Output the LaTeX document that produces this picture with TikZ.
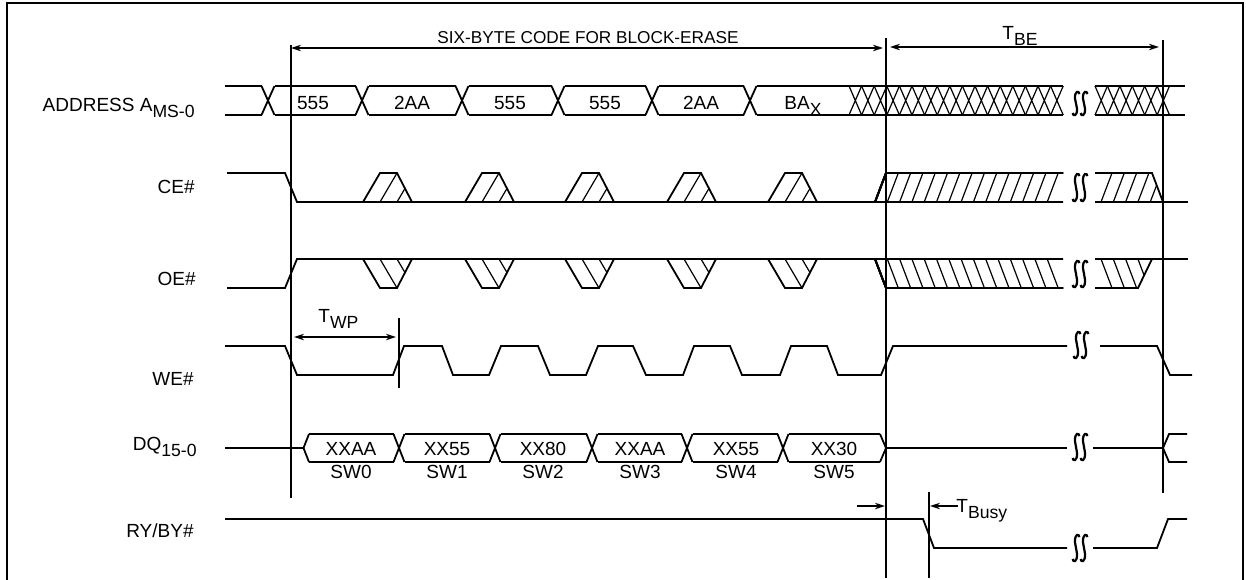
\documentclass[tikz,border=0pt]{standalone}
\usepackage{fontspec}
\setmainfont{Liberation Sans}
\usetikzlibrary{arrows.meta,positioning}

\tikzset{
  sig/.style={line width=0.9pt},
  hatch/.style={line width=0.6pt},
  guide/.style={line width=0.6pt},
  tip/.style={line width=0.8pt,-{Stealth[length=5pt,width=3.2pt]}},
  dimarrow/.style={line width=0.8pt,{Stealth[length=5pt,width=3.2pt]}-{Stealth[length=5pt,width=3.2pt]}},
  lbl/.style={font=\fontsize{9.5}{11}\selectfont,inner sep=0pt,anchor=base},
  rowlbl/.style={lbl,anchor=base east},
}
% subscript as printed in the data sheet
\newcommand{\sbs}[1]{\raisebox{-3.2pt}{\fontsize{8.8}{10}\selectfont #1}}
% break mark: x, top, bottom
\newcommand{\gapmark}[3]{%
  \foreach \gx in {#1-4,#1+4}{
    \draw[line width=1.1pt] (\gx+3.5,#2+3) .. controls (\gx+3,#2-0.5) and (\gx-1.5,#2-0.5) .. (\gx-1,{#2+0.3*(#3-#2)})
      -- (\gx+1,{#3-0.3*(#3-#2)}) .. controls (\gx+1.5,#3+0.5) and (\gx-3,#3+0.5) .. (\gx-3.5,#3-3);
  }}
% uncertain edge on CE# (rising) and OE# (falling)
\newcommand{\cebump}[1]{%
  \draw[sig] (#1,202) -- (#1+17,173) -- (#1+34,173) -- (#1+49,202);
  \draw[hatch] (#1+17,202) -- (#1+34,173) (#1+34,202) -- (#1+42,188.4);}
\newcommand{\oebump}[1]{%
  \draw[sig] (#1,259) -- (#1+17,288) -- (#1+34,288) -- (#1+49,259);
  \draw[hatch] (#1+17,259) -- (#1+34,288) (#1+34,259) -- (#1+42,272.6);}

\begin{document}
\begin{tikzpicture}[x=0.5pt,y=-0.5pt]
  \useasboundingbox (0,0) rectangle (1246,579);
  \draw[line width=1pt] (7,580) -- (7,2.5) -- (1243,2.5) -- (1243,580);

  % timing guides
  \draw[guide] (291,45) -- (291,498);
  \draw[guide] (886,38) -- (886,578);
  \draw[guide] (1163,40) -- (1163,493);
  \draw[guide] (399,318) -- (399,388);
  \draw[guide] (929,492) -- (929,578);

  % top dimensions
  \coordinate (sbL) at (291,48);  \coordinate (sbR) at (883,48);
  \coordinate (beL) at (890,47);  \coordinate (beR) at (1159,47);
  \draw[dimarrow] (sbL) -- (sbR);
  \draw[dimarrow] (beL) -- (beR);
  \node[lbl,font=\fontsize{8.6}{10}\selectfont] (code) at (588,43) {SIX-BYTE CODE FOR BLOCK-ERASE};
  \node[lbl,anchor=base west] (tbe) at (1002,39) {T\sbs{BE}};

  % row names
  \node[rowlbl] (addr) at (195,111) {ADDRESS A\sbs{MS-0}};
  \node[rowlbl] (ce) at (195,193) {CE\#};
  \node[rowlbl] (oe) at (196,285) {OE\#};
  \node[rowlbl] (we) at (194,385) {WE\#};
  \node[rowlbl] (dq) at (197,450) {DQ\sbs{15-0}};
  \node[rowlbl] (ry) at (194,537) {RY/BY\#};

  % ADDRESS
  \draw[sig] (225,86) -- (261.5,86) (225,115) -- (261.5,115);
  \foreach \c in {268,362,462,558,652,750}
    \draw[sig] (\c-6.5,86) -- (\c+6.5,115) (\c-6.5,115) -- (\c+6.5,86);
  \foreach \a/\b in {268/362,362/462,462/558,558/652,652/750,750/855}
    \draw[sig] (\a+6.5,86) -- (\b-6.5,86) (\a+6.5,115) -- (\b-6.5,115);
  \draw[sig] (848.5,86) -- (1063,86) (848.5,115) -- (1063,115);
  \foreach \k in {0,...,16}
    \draw[hatch] (849+12.6*\k,86) -- (861.6+12.6*\k,115) (849+12.6*\k,115) -- (861.6+12.6*\k,86);
  \draw[sig] (1095,86) -- (1185,86) (1095,115) -- (1185,115);
  \foreach \k in {0,...,5}
    \draw[hatch] (1095+12.42*\k,86) -- (1107.42+12.42*\k,115) (1095+12.42*\k,115) -- (1107.42+12.42*\k,86);
  \gapmark{1080}{91}{116}
  \node[lbl] (a1) at (313,109) {555};
  \node[lbl] (a2) at (412,109) {2AA};
  \node[lbl] (a3) at (510,109) {555};
  \node[lbl] (a4) at (605,109) {555};
  \node[lbl] (a5) at (701,109) {2AA};
  \node[lbl] (a6) at (803,109) {BA\sbs{X}};

  % CE#
  \draw[sig] (227,173) -- (285,173) -- (297,202) -- (1063,202);
  \draw[sig] (1095,202) -- (1188,202);
  \foreach \a in {363,465,565,667,768} \cebump{\a}
  \draw[sig] (875,202) -- (886,173) -- (1063,173);
  \foreach \k in {1,...,14} \draw[hatch] (875+12.3*\k,202) -- (886+12.3*\k,173);
  \draw[sig] (1095,173) -- (1152,173) -- (1163,202);
  \foreach \x in {1101,1113.3,1125.6,1137.9} \draw[hatch] (\x,202) -- (\x+11,173);
  \draw[hatch] (1150.2,202) -- (1156.6,185.3);
  \gapmark{1080}{173}{202}

  % OE#
  \draw[sig] (227,288) -- (285,288) -- (297,259) -- (1063,259);
  \draw[sig] (1095,259) -- (1188,259);
  \foreach \a in {363,465,565,667,768} \oebump{\a}
  \draw[sig] (875,259) -- (886,288) -- (1063,288);
  \foreach \k in {1,...,14} \draw[hatch] (875+12.3*\k,259) -- (886+12.3*\k,288);
  \draw[sig] (1095,288) -- (1138,288) -- (1152,259);
  \foreach \x in {1101,1113.3,1125.6} \draw[hatch] (\x,259) -- (\x+11,288);
  \draw[hatch] (1137.9,259) -- (1144.1,275.4);
  \gapmark{1080}{260}{288}

  % WE#
  \draw[sig] (225,346) -- (285,346) -- (297,375) -- (393,375) -- (404,346) -- (442,346)
    -- (453,375) -- (489,375) -- (501,346) -- (538,346) -- (550,375) -- (586,375)
    -- (598,346) -- (633,346) -- (646,375) -- (683,375) -- (694,346) -- (730,346)
    -- (742,375) -- (780,375) -- (791,346) -- (827,346) -- (838,375) -- (881,375)
    -- (893,346) -- (1067,346);
  \draw[sig] (1100,346) -- (1157,346) -- (1170,375) -- (1192,375);
  \gapmark{1081}{331}{359}
  \coordinate (wpL) at (294,337); \coordinate (wpR) at (396,337);
  \draw[dimarrow] (wpL) -- (wpR);
  \node[lbl,anchor=base west] (twp) at (318,322) {T\sbs{WP}};

  % DQ
  \draw[sig] (225,448) -- (303.5,448) -- (309,434) (303.5,448) -- (309,462);
  \foreach \c in {399,495,592,687,783}
    \draw[sig] (\c-5.5,434) -- (\c+5.5,462) (\c-5.5,462) -- (\c+5.5,434);
  \foreach \a/\b in {303.5/399,399/495,495/592,592/687,687/783,783/885.5}
    \draw[sig] (\a+5.5,434) -- (\b-5.5,434) (\a+5.5,462) -- (\b-5.5,462);
  \draw[sig] (880,434) -- (886,448) -- (880,462);
  \draw[sig] (886,448) -- (1067,448) (1093,448) -- (1163,448);
  \draw[sig] (1187,434) -- (1169,434) -- (1163,448) -- (1169,462) -- (1187,462);
  \gapmark{1080}{433}{461}
  \foreach \x/\d/\s [count=\i from 0] in {351/XXAA/SW0,447/XX55/SW1,543/XX80/SW2,640/XXAA/SW3,736/XX55/SW4,834/XX30/SW5}{
    \node[lbl] (d\i) at (\x,455) {\d};
    \node[lbl] (s\i) at (\x,478) {\s};
  }

  % RY/BY#
  \draw[sig] (225,519) -- (923,519) -- (934,548) -- (1067,548);
  \draw[sig] (1093,548) -- (1157,548) -- (1168,519) -- (1187,519);
  \gapmark{1080}{534}{562}
  \coordinate (byA) at (857,506); \coordinate (byB) at (885,506);
  \coordinate (byC) at (958,506); \coordinate (byD) at (930,506);
  \draw[tip] (byA) -- (byB);
  \draw[tip] (byC) -- (byD);
  \node[lbl,anchor=base west] (tbusy) at (956,512) {T\sbs{Busy}};
\end{tikzpicture}
\end{document}
